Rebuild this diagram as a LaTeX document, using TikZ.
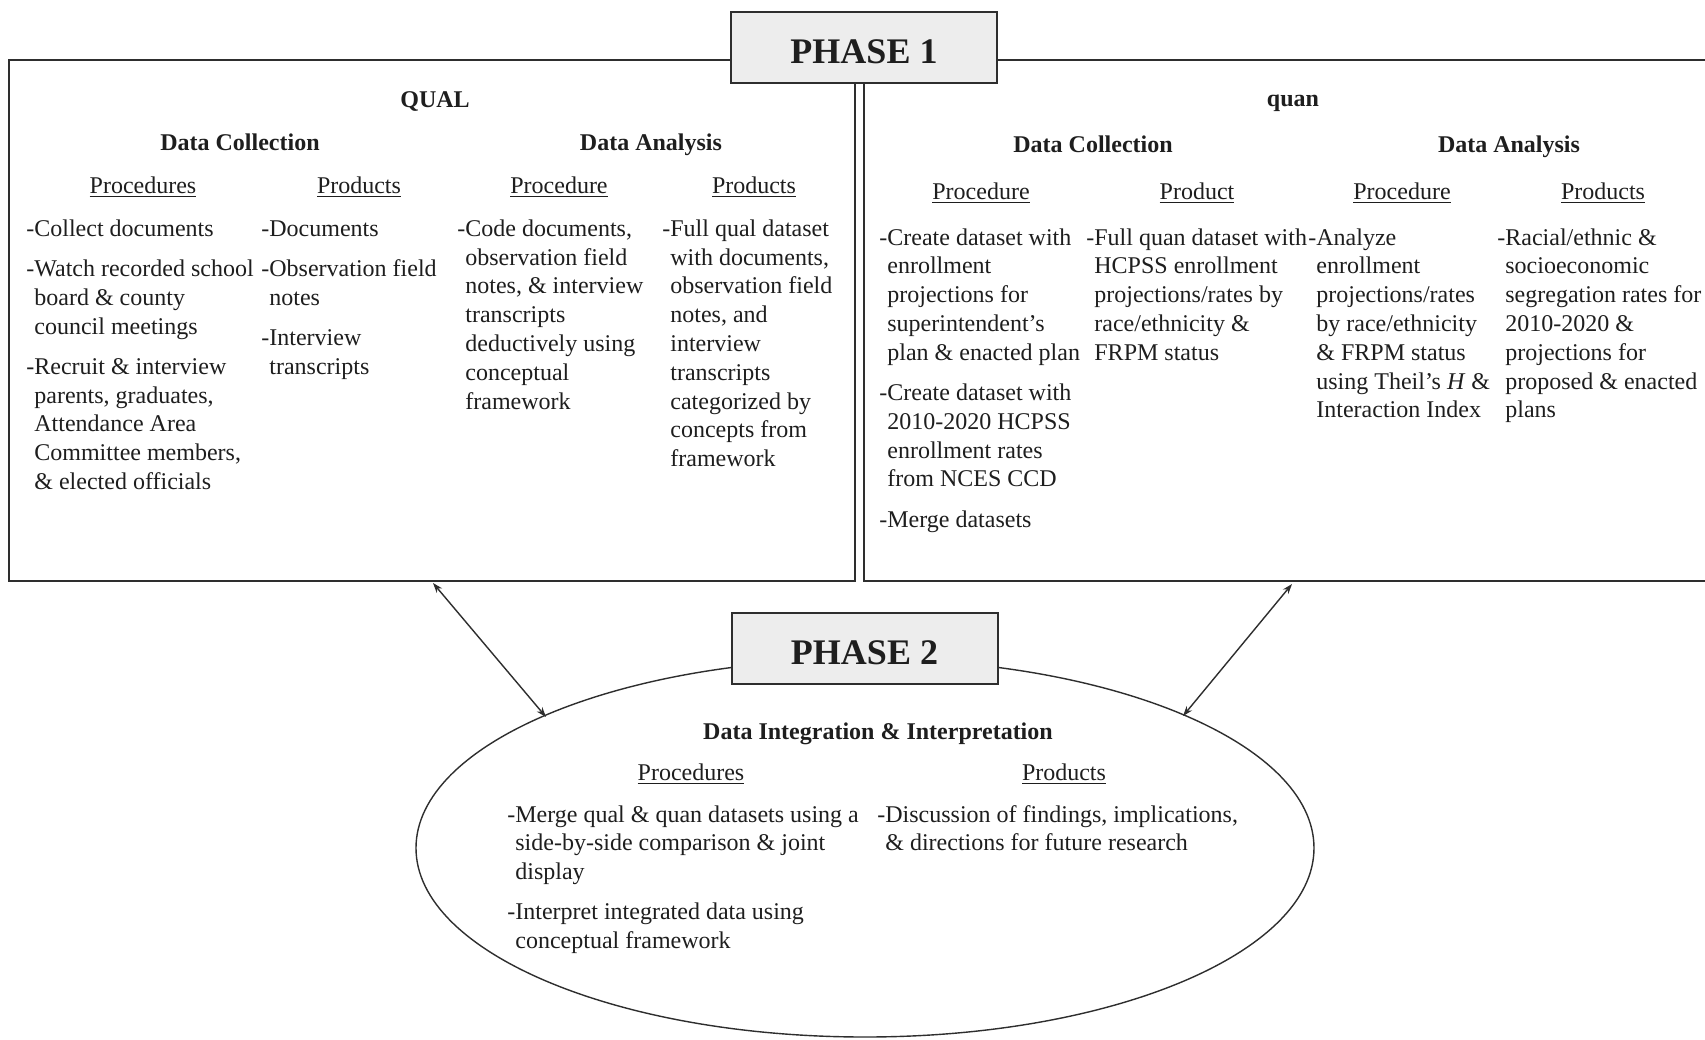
\documentclass[tikz,border=0pt]{standalone}
\usepackage{fontspec}
\setmainfont{Liberation Serif}
\usetikzlibrary{arrows.meta,shapes.geometric}
\definecolor{ln}{HTML}{2E2E2E}
\definecolor{boxfill}{HTML}{EDEDED}
\definecolor{txt}{HTML}{1E1E1E}
\newcommand\hx{\phantom{-}}
\begin{document}
\begin{tikzpicture}[x=0.5pt,y=-0.5pt,
 body/.style={anchor=north west, inner sep=0pt, align=left, font=\fontsize{12}{14.4}\selectfont, text=txt},
 head/.style={anchor=base, inner sep=0pt, font=\fontsize{12}{14.4}\selectfont\bfseries, text=txt},
 sub/.style={anchor=base, inner sep=0pt, font=\fontsize{12}{14.4}\selectfont, text=txt},
 frame/.style={draw=ln, line width=1pt},
 phase/.style={draw=ln, line width=1pt, fill=boxfill, minimum width=133pt, minimum height=35.5pt, text height=16.6pt, text depth=0pt, font=\fontsize{18}{21}\selectfont\bfseries, text=txt, inner sep=0pt},
 oval/.style={draw=ln, line width=0.7pt, ellipse, minimum width=449pt, minimum height=189pt, inner sep=0pt},
 link/.style={draw=ln, line width=0.7pt, {Stealth[length=5pt,width=3.5pt]}-{Stealth[length=5pt,width=3.5pt]}}
]
\useasboundingbox (0,0) rectangle (1705,1040);
\fill[white] (0,0) rectangle (1705,1040);

% frames
\draw[frame] (9,60) rectangle (855,581);
\draw[frame] (1705,60) -- (864,60) -- (864,581) -- (1705,581);
\node[oval] (ell) at (865,848) {};

\node[phase] (ph1) at (864,47) {PHASE 1};
\node[phase] (ph2) at (864.5,648) {PHASE 2};

% arrows
\coordinate (la) at (433,583);
\coordinate (lb) at (546,717);
\coordinate (ra) at (1292,584);
\coordinate (rb) at (1183,716);
\draw[link] (la) -- (lb);
\draw[link] (ra) -- (rb);

% QUAL
\node[head] (qual) at (435,107) {QUAL};
\node[head] (qdc) at (240,150) {Data Collection};
\node[head] (qda) at (651,150) {Data Analysis};
\node[sub] (qh1) at (143,193.5) {\underline{Procedures}};
\node[sub] (qh2) at (359,193.5) {\underline{Products}};
\node[sub] (qh3) at (559,193.5) {\underline{Procedure}};
\node[sub] (qh4) at (754,193.5) {\underline{Products}};

\node[body] (qc1) at (26,215.8) {\strut-Collect documents\\[5.7pt]-Watch recorded school\\\hx board \& county\\\hx council meetings\\[5.7pt]-Recruit \& interview\\\hx parents, graduates,\\\hx Attendance Area\\\hx Committee members,\\\hx \& elected officials};
\node[body] (qc2) at (261,215.8) {\strut-Documents\\[5.7pt]-Observation field\\\hx notes\\[5.7pt]-Interview\\\hx transcripts};
\node[body] (qc3) at (457,215.8) {\strut-Code documents,\\\hx observation field\\\hx notes, \& interview\\\hx transcripts\\\hx deductively using\\\hx conceptual\\\hx framework};
\node[body] (qc4) at (662,215.8) {\strut-Full qual dataset\\\hx with documents,\\\hx observation field\\\hx notes, and\\\hx interview\\\hx transcripts\\\hx categorized by\\\hx concepts from\\\hx framework};

% quan
\node[head] (quan) at (1293,106) {quan};
\node[head] (ndc) at (1093,152) {Data Collection};
\node[head] (nda) at (1509,152) {Data Analysis};
\node[sub] (nh1) at (981,199) {\underline{Procedure}};
\node[sub] (nh2) at (1197,199) {\underline{Product}};
\node[sub] (nh3) at (1402,199) {\underline{Procedure}};
\node[sub] (nh4) at (1603,199) {\underline{Products}};

\node[body] (nc1) at (879,224.5) {\strut-Create dataset with\\\hx enrollment\\\hx projections for\\\hx superintendent's\\\hx plan \& enacted plan\\[5.7pt]-Create dataset with\\\hx 2010-2020 HCPSS\\\hx enrollment rates\\\hx from NCES CCD\\[5.7pt]-Merge datasets};
\node[body] (nc2) at (1086,224.5) {\strut-Full quan dataset with\\\hx HCPSS enrollment\\\hx projections/rates by\\\hx race/ethnicity \&\\\hx FRPM status};
\node[body] (nc3) at (1308,224.5) {\strut-Analyze\\\hx enrollment\\\hx projections/rates\\\hx by race/ethnicity\\\hx \& FRPM status\\\hx using Theil's \textit{H} \&\\\hx Interaction Index};
\node[body] (nc4) at (1497,224.5) {\strut-Racial/ethnic \&\\\hx socioeconomic\\\hx segregation rates for\\\hx 2010-2020 \&\\\hx projections for\\\hx proposed \& enacted\\\hx plans};

% phase 2
\node[head] (dii) at (878,739) {Data Integration \& Interpretation};
\node[sub] (eh1) at (691,780) {\underline{Procedures}};
\node[sub] (eh2) at (1064,780) {\underline{Products}};
\node[body] (ec1) at (507,801.5) {\strut-Merge qual \& quan datasets using a\\\hx side-by-side comparison \& joint\\\hx display\\[5.7pt]-Interpret integrated data using\\\hx conceptual framework};
\node[body] (ec2) at (877,801.5) {\strut-Discussion of findings, implications,\\\hx \& directions for future research};
\end{tikzpicture}
\end{document}
